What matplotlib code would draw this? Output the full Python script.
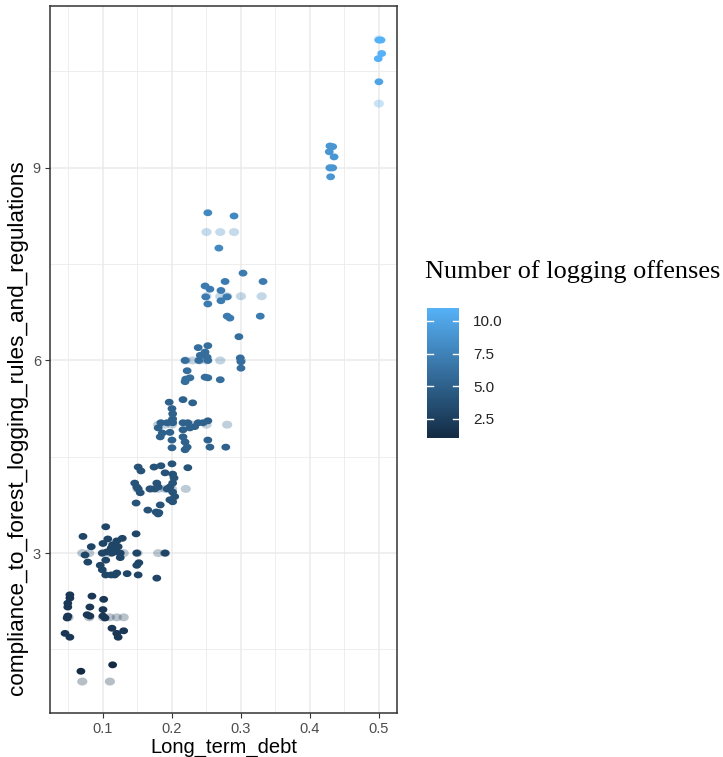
import numpy as np
import matplotlib
matplotlib.use("Agg")
import matplotlib.pyplot as plt
from matplotlib.colors import LinearSegmentedColormap, Normalize
from matplotlib.path import Path

# ---------------- data ----------------
# jittered observations (Long_term_debt, compliance, number of logging offenses)
jit_x = [0.068, 0.114,
         0.052, 0.052, 0.049, 0.049, 0.049, 0.048, 0.045, 0.052, 0.084, 0.081, 0.081, 0.077,
         0.101, 0.100, 0.100, 0.103, 0.113, 0.120, 0.122, 0.130,
         0.104, 0.071, 0.107, 0.120, 0.128, 0.148, 0.083, 0.100, 0.114, 0.122, 0.112, 0.074,
         0.099, 0.106, 0.113, 0.119, 0.125, 0.149, 0.190, 0.078, 0.096, 0.099, 0.104, 0.125,
         0.152, 0.149, 0.104, 0.112, 0.117, 0.120, 0.135, 0.151, 0.178,
         0.165, 0.180, 0.151, 0.155, 0.174, 0.184, 0.200, 0.190, 0.223, 0.201, 0.203, 0.146,
         0.149, 0.151, 0.154, 0.178, 0.180, 0.168, 0.175, 0.193, 0.197, 0.201, 0.201, 0.204,
         0.197, 0.201, 0.148, 0.183, 0.177, 0.181,
         0.196, 0.216, 0.230, 0.200, 0.201, 0.201, 0.200, 0.184, 0.193, 0.201, 0.180, 0.186,
         0.183, 0.197, 0.200, 0.200, 0.216, 0.223, 0.238, 0.245, 0.252, 0.216, 0.216, 0.219,
         0.222, 0.219, 0.226, 0.233, 0.252, 0.255, 0.278,
         0.297, 0.238, 0.252, 0.248, 0.241, 0.251, 0.219, 0.239, 0.252, 0.299, 0.300, 0.300,
         0.222, 0.219, 0.226, 0.248, 0.252, 0.270, 0.220,
         0.303, 0.277, 0.332, 0.248, 0.255, 0.271, 0.249, 0.280, 0.252, 0.271, 0.280, 0.284, 0.328,
         0.252, 0.290, 0.268,
         0.429, 0.433, 0.428, 0.435, 0.433, 0.429, 0.430,
         0.503, 0.500, 0.504, 0.499, 0.500]
jit_y = [1.16, 1.26,
         2.35, 2.30, 2.22, 2.16, 2.02, 1.99, 1.75, 1.69, 2.33, 2.16, 2.02, 2.04,
         2.28, 2.12, 2.02, 1.99, 1.83, 1.75, 1.69, 1.79,
         3.41, 3.26, 3.22, 3.19, 3.23, 3.30, 3.10, 3.15, 3.13, 3.10, 3.08, 2.97,
         3.00, 3.02, 3.00, 3.02, 3.00, 3.00, 3.00, 2.86, 2.81, 2.74, 2.89, 2.93,
         2.85, 2.81, 2.66, 2.66, 2.66, 2.69, 2.68, 2.66, 2.61,
         3.67, 3.61, 4.34, 4.28, 4.34, 4.36, 4.39, 4.25, 4.33, 4.23, 4.17, 4.09,
         4.03, 4.00, 3.94, 4.09, 4.03, 4.00, 4.00, 4.00, 4.03, 4.09, 3.95, 3.88,
         3.83, 3.80, 3.78, 3.75, 3.64, 3.63,
         5.35, 5.39, 5.34, 5.25, 5.17, 5.09, 5.06, 5.03, 5.03, 5.03, 4.95, 4.87,
         4.81, 4.88, 4.76, 4.64, 5.03, 5.03, 5.03, 5.03, 5.06, 4.92, 4.81, 4.73,
         4.65, 4.61, 4.95, 4.97, 4.76, 4.65, 4.65,
         6.37, 6.20, 6.23, 6.13, 6.08, 6.05, 6.00, 6.00, 6.00, 6.04, 5.98, 5.88,
         5.84, 5.67, 5.73, 5.74, 5.73, 5.70, 5.71,
         7.36, 7.23, 7.23, 7.16, 7.11, 7.09, 6.99, 6.99, 6.88, 6.93, 6.69, 6.66, 6.69,
         8.30, 8.25, 7.75,
         9.34, 9.33, 9.25, 9.17, 9.00, 9.00, 8.86,
         10.99, 10.99, 10.78, 10.70, 10.34]
jit_c = [1, 1] + [2] * 20 + [3] * 33 + [4] * 30 + [5] * 31 + [6] * 19 + [7] * 13 \
        + [8] * 3 + [9] * 7 + [11, 11, 11, 11, 10]

# distinct (un-jittered) observation positions
base_x = [0.07, 0.11,
          0.05, 0.08, 0.10, 0.11, 0.12, 0.13,
          0.07, 0.08, 0.10, 0.11, 0.13, 0.15, 0.18, 0.19,
          0.15, 0.17, 0.18, 0.19, 0.20, 0.22,
          0.18, 0.19, 0.20, 0.22, 0.23, 0.25, 0.28,
          0.22, 0.23, 0.24, 0.25, 0.27, 0.30,
          0.25, 0.27, 0.28, 0.30, 0.33,
          0.25, 0.27, 0.29,
          0.43,
          0.50, 0.50]
base_y = [1, 1,
          2, 2, 2, 2, 2, 2,
          3, 3, 3, 3, 3, 3, 3, 3,
          4, 4, 4, 4, 4, 4,
          5, 5, 5, 5, 5, 5, 5,
          6, 6, 6, 6, 6, 6,
          7, 7, 7, 7, 7,
          8, 8, 8,
          9,
          10, 11]
base_c = list(base_y)

x_ticks = [0.1, 0.2, 0.3, 0.4, 0.5]
y_ticks = [3, 6, 9]
cbar_ticks = [2.5, 5.0, 7.5, 10.0]
x_title = "Long_term_debt"
y_title = "compliance_to_forest_logging_rules_and_regulations"
legend_title = "Number of logging offenses"

# ---------------- style ----------------
cmap = LinearSegmentedColormap.from_list("gg", ["#132B43", "#56B1F7"])
norm = Normalize(vmin=1, vmax=11)

t = np.linspace(0, 2 * np.pi, 60)
ellipse = Path(np.column_stack([np.cos(t), 0.78 * np.sin(t)]), closed=True)

plt.rcParams['font.family'] = ['Liberation Sans', 'DejaVu Sans']

fig = plt.figure(figsize=(7.23, 7.57), dpi=100)
ax = fig.add_axes([50 / 723, 1 - 713 / 757, 347 / 723, 707 / 757])

ax.scatter(base_x, base_y, c=base_c, cmap=cmap, norm=norm, s=54, marker=ellipse,
           alpha=0.3, linewidths=0, zorder=3)
ax.scatter(jit_x, jit_y, c=jit_c, cmap=cmap, norm=norm, s=40, marker=ellipse,
           linewidths=0, zorder=4)

ax.set_xlim(0.0232, 0.5262)
ax.set_ylim(0.51, 11.52)
ax.set_xticks(x_ticks)
ax.set_xticklabels([f"{v:.1f}" for v in x_ticks])
ax.set_yticks(y_ticks)
ax.set_yticklabels([str(v) for v in y_ticks])
ax.set_xticks([0.05, 0.15, 0.25, 0.35, 0.45], minor=True)
ax.set_yticks([1.5, 4.5, 7.5, 10.5], minor=True)
ax.grid(which='major', color='#EBEBEB', linewidth=1.1, zorder=0)
ax.grid(which='minor', color='#EBEBEB', linewidth=0.6, zorder=0)
ax.set_axisbelow(True)
ax.tick_params(which='major', length=3.5, width=0.8, color='#333333',
               labelcolor='#4D4D4D', labelsize=10.5, pad=3)
ax.tick_params(which='minor', length=0)
for sp in ax.spines.values():
    sp.set_color('#333333')
    sp.set_linewidth(1.1)

ax.set_xlabel(x_title, fontsize=14.5, color='black', labelpad=1)
ax.set_ylabel(y_title, fontsize=16.2, color='black')
ax.yaxis.set_label_coords(-0.062, 0.403)

# colourbar
cax = fig.add_axes([427 / 723, 1 - 438 / 757, 32 / 723, 130 / 757])
cb = fig.colorbar(plt.cm.ScalarMappable(norm=norm, cmap=cmap), cax=cax)
cb.set_ticks(cbar_ticks)
cb.set_ticklabels([f"{v:.1f}" for v in cbar_ticks])
cb.outline.set_visible(False)
cax.tick_params(length=0, labelsize=11, labelcolor='#222222', pad=10)
for v in cbar_ticks:
    cax.plot([0, 0.2], [v, v], color='white', lw=1, transform=cax.get_yaxis_transform())
    cax.plot([0.8, 1], [v, v], color='white', lw=1, transform=cax.get_yaxis_transform())

fig.text(425 / 723, 1 - 278 / 757, legend_title, fontsize=18.9,
         family=['Liberation Serif', 'DejaVu Serif'], ha='left', va='baseline')

fig.savefig("out.png", dpi=100, facecolor='white')
